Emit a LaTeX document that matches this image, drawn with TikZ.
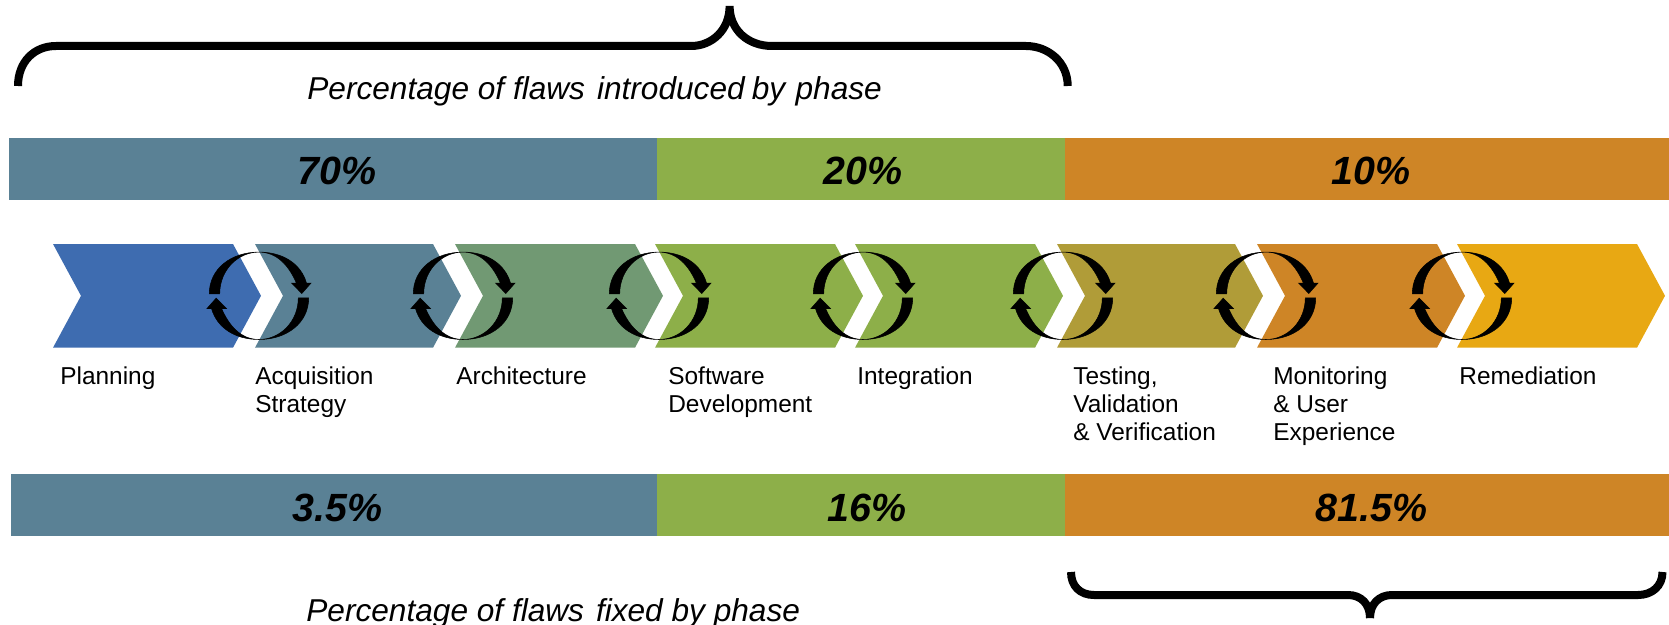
\documentclass[tikz,border=0pt]{standalone}
\usepackage{fontspec}
\setmainfont{Liberation Sans}
\definecolor{barteal}{HTML}{5A8195}
\definecolor{bargreen}{HTML}{8DAF49}
\definecolor{barorange}{HTML}{CE8526}
\definecolor{chevblue}{HTML}{3E6CB0}
\definecolor{chevsage}{HTML}{719973}
\definecolor{chevolive}{HTML}{B09C38}
\definecolor{chevgold}{HTML}{E8A813}
\newcommand{\chevron}[3]{\fill[#3](#1,244)--(#1+#2-28,244)--(#1+#2,295.8)--(#1+#2-28,347.7)--(#1,347.7)--(#1+28,295.8)--cycle;}
\newcommand{\halfcycle}{(-49.7,-2) .. controls (-49.7,-27) and (-28,-43.7) .. (0,-43.7) .. controls (24,-43.7) and (42,-32) .. (47.5,-12.7) -- (52,-12.7) -- (42.8,-2.3) -- (32.6,-12.7) -- (37.4,-12.7) .. controls (30,-30) and (18,-43.7) .. (0,-43.7) .. controls (-21,-43.7) and (-39.3,-26) .. (-39.3,-2) -- cycle}
\tikzset{
  cyclearrow/.pic={
    \filldraw[black,line width=.3pt]\halfcycle;
    \filldraw[black,line width=.3pt,rotate=180]\halfcycle;
  },
  pct/.style={anchor=base,inner sep=0pt,font=\fontsize{22.4}{26}\selectfont\bfseries\itshape},
  phase/.style={anchor=base west,inner sep=0pt,font=\fontsize{18}{22}\selectfont\itshape},
  steptext/.style={anchor=north west,inner sep=0pt,align=left,execute at begin node=\strut,font=\fontsize{13.9}{15.8}\selectfont},
  curly/.style={line width=.16cm,line cap=butt}
}

\begin{document}
\begin{tikzpicture}[x=.02cm,y=-.02cm]
        \useasboundingbox (0,0) rectangle (1669,625);
        % top bars
        \fill[barteal](9,138) rectangle (657,200);
        \fill[bargreen](657,138) rectangle (1065,200);
        \fill[barorange](1065,138) rectangle (1669,200);
        % bottom bars
        \fill[barteal](11,474) rectangle (657,536);
        \fill[bargreen](657,474) rectangle (1065,536);
        \fill[barorange](1065,474) rectangle (1669,536);
        % chevrons
        \chevron{53}{208}{chevblue}
        \chevron{255}{206}{barteal}
        \chevron{455}{208}{chevsage}
        \chevron{655}{208}{bargreen}
        \chevron{855}{208}{bargreen}
        \chevron{1057}{206}{chevolive}
        \chevron{1257}{208}{barorange}
        \chevron{1457}{208}{chevgold}
        % arrows between phases
        \pic (c1) at (259,295.8) {cyclearrow};
        \pic (c2) at (463,295.8) {cyclearrow};
        \pic (c3) at (659,295.8) {cyclearrow};
        \pic (c4) at (863,295.8) {cyclearrow};
        \pic (c5) at (1063,295.8) {cyclearrow};
        \pic (c6) at (1266,295.8) {cyclearrow};
        \pic (c7) at (1462,295.8) {cyclearrow};
        % braces
        \draw[curly](18,86) .. controls (18,62) and (34,46) .. (56,46) -- (691,46) .. controls (712,46) and (729.6,30) .. (729.6,6)
        (729.6,6) .. controls (729.6,30) and (748,46) .. (772,46) -- (1026,46) .. controls (1048,46) and (1067.7,62) .. (1067.7,86);
        \draw[curly](1071,572) .. controls (1071,586) and (1080,595) .. (1094,595) -- (1348,595) .. controls (1361,595) and (1370,604) .. (1370,618)
        (1370,618) .. controls (1370,604) and (1379,595) .. (1392,595) -- (1638,595) .. controls (1652,595) and (1662.5,586) .. (1662.5,572);
        % texts
        \node[phase](introduced)at(307,100){Percentage of flaws\ \kern.1em introduced\kern-.05em\ by\kern.05em\ phase};
        \node[phase](fixed)at(306,621){Percentage of flaws\ \kern.1em fixed by phase};
        \node[pct](top70)at(337,184.3){70\%};
        \node[pct](top20)at(863,184.3){20\%};
        \node[pct](top10)at(1371,184.3){10\%};
        \node[pct](low35)at(337.5,521.7){3.5\%};
        \node[pct](low16)at(867,521.7){16\%};
        \node[pct](low815)at(1371.5,521.7){81.5\%};
        \node[steptext](planning)at(60,364.3){Planning};
        \node[steptext](acquisition)at(255,366.5){Acquisition\\Strategy};
        \node[steptext](architecture)at(456,364.3){Architecture};
        \node[steptext](software)at(668,366.5){Software\\Development};
        \node[steptext](integration)at(857,364.3){Integration};
        \node[steptext](testing)at(1073,366.5){Testing,\\Validation\\\& Verification};
        \node[steptext](monitoring)at(1273,366.5){Monitoring\\\& User\\Experience};
        \node[steptext](remediation)at(1459,364.3){Remediation};
    \end{tikzpicture}
\end{document}
